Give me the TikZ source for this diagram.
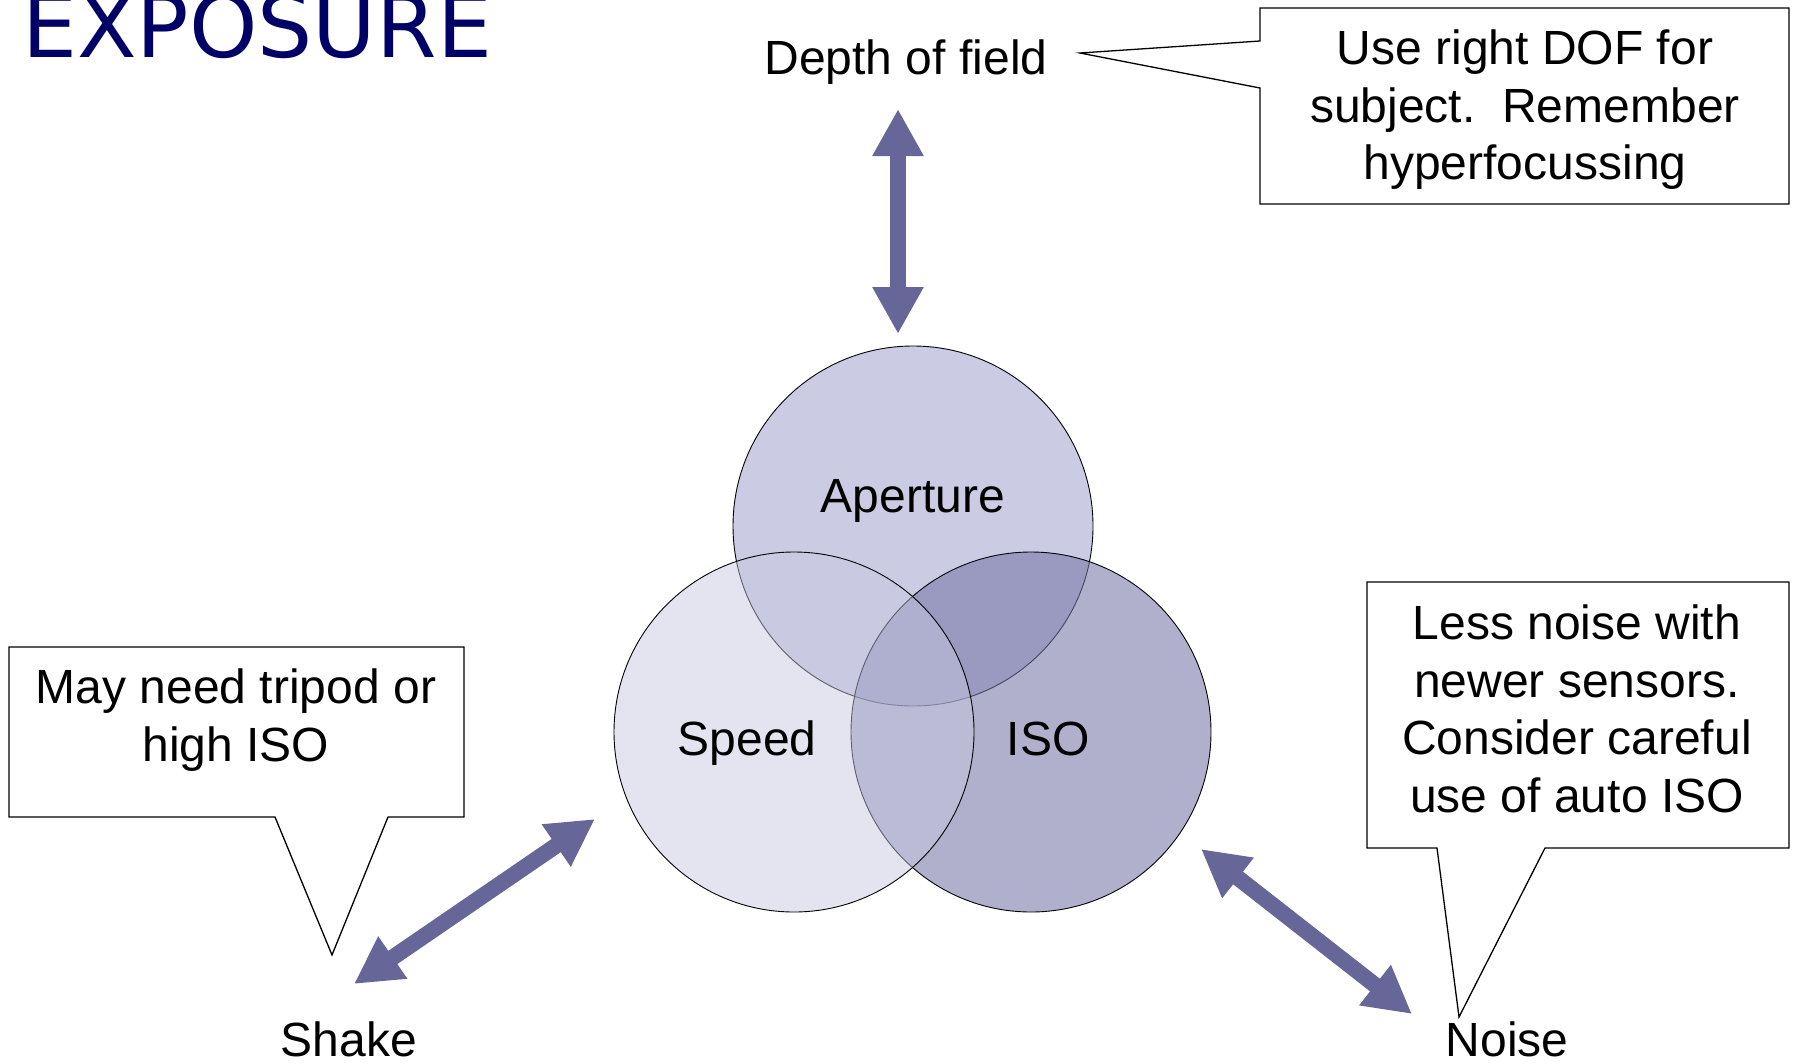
\documentclass[tikz,border=0pt]{standalone}
\usepackage{fontspec}
\setmainfont{Liberation Sans}
\newfontfamily\titlefont{DejaVu Sans}
\usetikzlibrary{arrows.meta}

\definecolor{arrowblue}{RGB}{102,102,153}
\definecolor{titleblue}{RGB}{0,0,102}
\definecolor{apfill}{RGB}{203,203,227}
\definecolor{isofill}{RGB}{119,119,167}
\definecolor{speedfill}{RGB}{199,199,224}

\tikzset{
  lbl/.style={font=\fontsize{48}{57.5}\selectfont, inner sep=0pt, align=center},
  fatarrow/.style={arrowblue, line width=16pt,
    {Triangle[length=47pt,width=48pt]}-{Triangle[length=47pt,width=48pt]}},
  callout/.style={draw, line width=1.3pt, line join=miter},
  venn/.style={circle, draw=black, line width=0.9pt, minimum size=360pt, inner sep=0pt}
}

\begin{document}
\begin{tikzpicture}[x=1pt,y=-1pt]
\useasboundingbox (0,0) rectangle (1796,1063);
\clip (0,0) rectangle (1796,1063);

% title
\node[anchor=base west, inner sep=0pt, text=titleblue, font=\titlefont\fontsize{87}{100}\selectfont] (title) at (22,57) {EXPOSURE};

% venn circles
\node[venn, fill=apfill] (aperture) at (913,526) {};
\node[venn, fill=isofill, fill opacity=0.58] (iso) at (1031,732) {};
\node[venn, fill=speedfill, fill opacity=0.48] (speed) at (794,732) {};
\node[lbl, anchor=base] (apLabel) at (913,512) {Aperture};
\node[lbl, anchor=base] (speedLabel) at (747,755) {Speed};
\node[lbl, anchor=base] (isoLabel) at (1048,755) {ISO};

% effects
\node[lbl, anchor=base] (dof) at (906,74) {Depth of field};
\node[lbl, anchor=base] (shake) at (349,1056) {Shake};
\node[lbl, anchor=base] (noise) at (1507,1056) {Noise};

% arrows
\coordinate (dofTop) at (898,109);
\coordinate (dofBot) at (898,334);
\coordinate (shakeA) at (354,984);
\coordinate (shakeB) at (595,819);
\coordinate (noiseA) at (1201,849);
\coordinate (noiseB) at (1412,1014);
\draw[fatarrow] (dofTop) -- (dofBot);
\draw[fatarrow] (shakeA) -- (shakeB);
\draw[fatarrow] (noiseA) -- (noiseB);

% callouts
\draw[callout] (1260,8) -- (1789,8) -- (1789,204) -- (1260,204) -- (1260,88)
  -- (1080,53) -- (1260,41) -- cycle;
\node[lbl] (dofNote) at (1525,110) {Use right DOF for\\subject.\ \ Remember\\hyperfocussing};

\draw[callout] (9,647) -- (464,647) -- (464,817) -- (388,817) -- (332,955)
  -- (275,817) -- (9,817) -- cycle;
\node[lbl] (shakeNote) at (236,720) {May need tripod or\\high ISO};

\draw[callout] (1367,582) -- (1789,582) -- (1789,848) -- (1545,848) -- (1459,1017)
  -- (1437,848) -- (1367,848) -- cycle;
\node[lbl] (noiseNote) at (1577,709) {Less noise with\\newer sensors.\\Consider careful\\use of auto ISO};
\end{tikzpicture}
\end{document}
